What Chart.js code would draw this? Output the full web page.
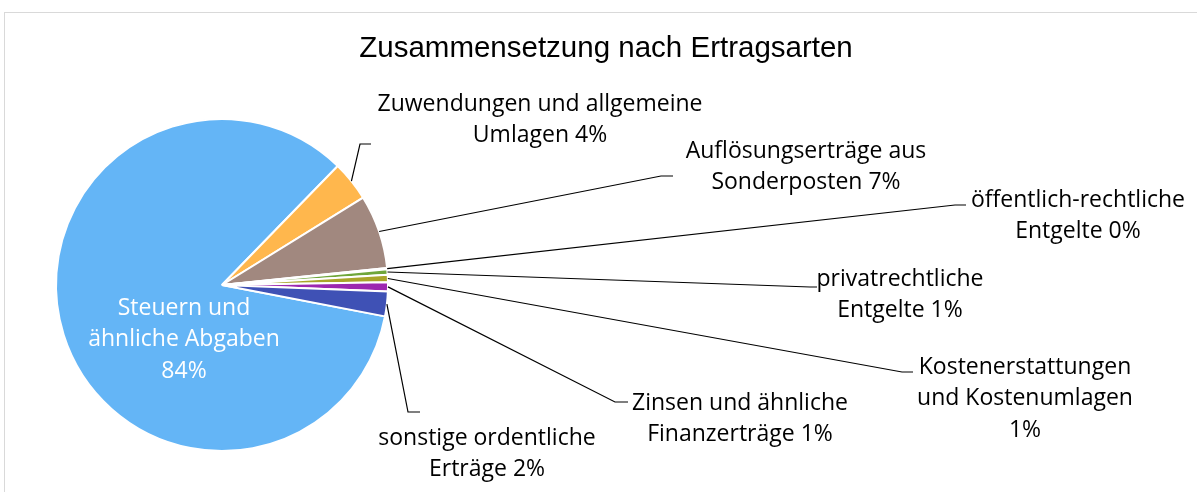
<!DOCTYPE html>
<html><head><meta charset="utf-8">
<script src="https://cdn.jsdelivr.net/npm/chart.js@4.4.1/dist/chart.umd.min.js"></script>
<style>html,body{margin:0;padding:0;background:#fff;overflow:hidden}</style>
</head><body>
<canvas id="c" width="1197" height="492"></canvas>
<script>
// ---- data ----
const chartTitle = 'Zusammensetzung nach Ertragsarten';
const categories = [
  'Steuern und ähnliche Abgaben',
  'Zuwendungen und allgemeine Umlagen',
  'Auflösungserträge aus Sonderposten',
  'öffentlich-rechtliche Entgelte',
  'privatrechtliche Entgelte',
  'Kostenerstattungen und Kostenumlagen',
  'Zinsen und ähnliche Finanzerträge',
  'sonstige ordentliche Erträge'
];
const values = [84.25, 3.9, 7.2, 0.1, 0.55, 0.7, 0.9, 2.4];
const labelLines = [
  ['Steuern und', 'ähnliche Abgaben', ''],
  ['Zuwendungen und allgemeine', 'Umlagen'],
  ['Auflösungserträge aus', 'Sonderposten'],
  ['öffentlich-rechtliche', 'Entgelte'],
  ['privatrechtliche', 'Entgelte'],
  ['Kostenerstattungen', 'und Kostenumlagen', ''],
  ['Zinsen und ähnliche', 'Finanzerträge'],
  ['sonstige ordentliche', 'Erträge']
];

// ---- styles / layout ----
const colors = ['#64B5F6', '#FFB74D', '#A1887F', '#FFFFFF', '#6FA63A', '#A9A52A', '#9C27B0', '#3F51B5'];
const labelFont = '23px "Open Sans"';
const lineGap = 31.5;
// cx, first-line middle y, elbow x, elbow y, end x (no ex = no leader)
const labelLayout = [
  {cx: 184, y: 308, color: '#ffffff'},
  {cx: 540, y: 104, ex: 360, ey: 144, hx: 371},
  {cx: 806, y: 151, ex: 661, ey: 176, hx: 673},
  {cx: 1078, y: 200, ex: 955, ey: 205, hx: 966},
  {cx: 900, y: 279, ex: 810, ey: 287, hx: 817},
  {cx: 1025, y: 367, ex: 902, ey: 372, hx: 913},
  {cx: 740, y: 403, ex: 615, ey: 402, hx: 628},
  {cx: 487, y: 438, ex: 408, ey: 412, hx: 420}
];

const total = values.reduce((a, b) => a + b, 0);
const pctText = v => Math.round(v / total * 100) + '%';
// boundary between first and second slice sits at 45.8° above horizontal
const rotation = 90 - 45.8 - values[0] / total * 360;

const framePlugin = {
  id: 'frame',
  beforeDraw(chart) {
    const ctx = chart.ctx;
    ctx.save();
    ctx.fillStyle = '#fff';
    ctx.fillRect(0, 0, chart.width, chart.height);
    ctx.strokeStyle = '#d9d9d9';
    ctx.lineWidth = 1;
    ctx.strokeRect(4.5, 12.5, 1400, 600);
    ctx.fillStyle = '#000';
    ctx.font = '29.5px "Liberation Sans"';
    ctx.textAlign = 'center';
    ctx.textBaseline = 'middle';
    ctx.fillText(chartTitle, 606, 49);
    ctx.restore();
  }
};

const labelPlugin = {
  id: 'labels',
  afterDraw(chart) {
    const ctx = chart.ctx;
    const meta = chart.getDatasetMeta(0);
    ctx.save();
    meta.data.forEach((arc, i) => {
      const L = labelLayout[i];
      if (L.ex !== undefined) {
        const mid = (arc.startAngle + arc.endAngle) / 2;
        const r = arc.outerRadius;
        const sx = arc.x + Math.cos(mid) * r;
        const sy = arc.y + Math.sin(mid) * r;
        ctx.beginPath();
        ctx.strokeStyle = '#000';
        ctx.lineWidth = 1.2;
        ctx.moveTo(sx, sy);
        ctx.lineTo(L.ex, L.ey);
        ctx.lineTo(L.hx, L.ey);
        ctx.stroke();
      }
      const lines = labelLines[i].slice();
      const last = lines.length - 1;
      lines[last] = lines[last] ? lines[last] + ' ' + pctText(values[i]) : pctText(values[i]);
      ctx.fillStyle = L.color || '#000';
      ctx.font = labelFont;
      ctx.textAlign = 'center';
      ctx.textBaseline = 'middle';
      lines.forEach((t, k) => ctx.fillText(t, L.cx, L.y + k * lineGap));
    });
    ctx.restore();
  }
};

new Chart(document.getElementById('c'), {
  type: 'pie',
  data: {
    labels: categories,
    datasets: [{
      data: values,
      backgroundColor: colors,
      borderColor: '#ffffff',
      borderWidth: 2
    }]
  },
  options: {
    responsive: false,
    animation: false,
    devicePixelRatio: 1,
    rotation: rotation,
    layout: {padding: {left: 55, right: 808, top: 118, bottom: 40}},
    plugins: {legend: {display: false}, tooltip: {enabled: false}, title: {display: false}}
  },
  plugins: [framePlugin, labelPlugin]
});
</script>
</body></html>
